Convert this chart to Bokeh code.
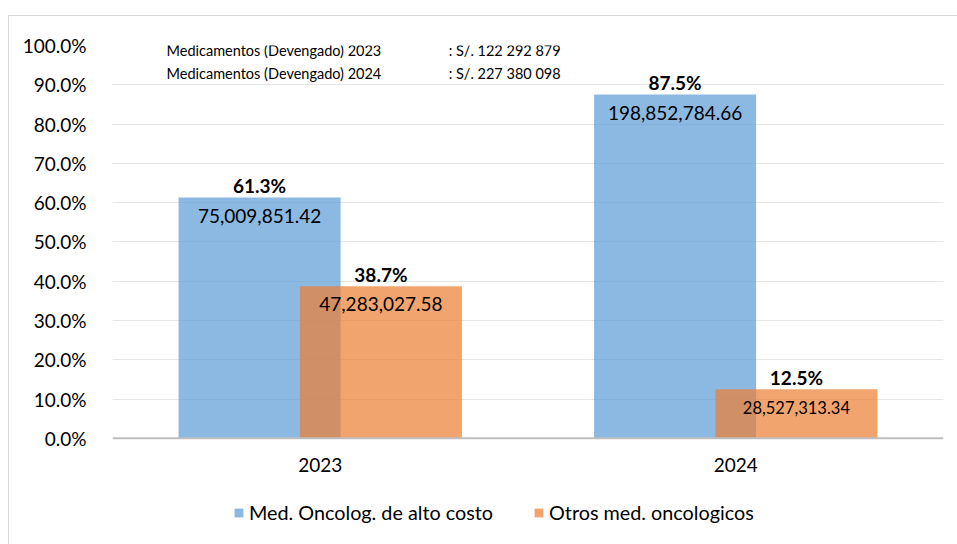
from bokeh.plotting import figure
from bokeh.models import (ColumnDataSource, FixedTicker, NumeralTickFormatter,
                          Legend, LegendItem, Label, Span)
from bokeh.core.properties import value
from bokeh.embed import file_html
from bokeh.resources import INLINE

# ---- data ----
years = ["2023", "2024"]
alto_costo_pct = [0.613, 0.875]
otros_pct = [0.387, 0.125]
alto_costo_amt = ["75,009,851.42", "198,852,784.66"]
otros_amt = ["47,283,027.58", "28,527,313.34"]
pct_labels_alto = ["61.3%", "87.5%"]
pct_labels_otros = ["38.7%", "12.5%"]
series_names = ["Med. Oncolog. de alto costo", "Otros med. oncologicos"]
note_labels = ["Medicamentos (Devengado) 2023", "Medicamentos (Devengado) 2024"]
note_values = [": S/. 122 292 879", ": S/. 227 380 098"]
y_ticks = [0.0, 0.1, 0.2, 0.3, 0.4, 0.5, 0.6, 0.7, 0.8, 0.9, 1.0]

# ---- styling ----
FONT = "Lato"
BLUE = "#5B9BD5"
ORANGE = "#ED7D31"
OFF = 0.146
BAR_W = 0.39
amt_sizes_otros = ["19px", "16.5px"]
Y_BOTTOM = -0.2628   # extra room under the axis for year labels and legend

idx = list(range(len(years)))
src_a = ColumnDataSource(dict(
    x=[i - OFF for i in idx], top=alto_costo_pct, amt=alto_costo_amt,
    pct=pct_labels_alto, size=["19px", "19px"]))
src_o = ColumnDataSource(dict(
    x=[i + OFF for i in idx], top=otros_pct, amt=otros_amt,
    pct=pct_labels_otros, size=amt_sizes_otros))
src_years = ColumnDataSource(dict(x=idx, y=[0] * len(idx), t=years))

p = figure(width=949, height=529, output_backend="svg", toolbar_location=None,
           x_range=(-0.5, len(years) - 0.5), y_range=(Y_BOTTOM, 1.0),
           min_border_left=103, min_border_right=15, min_border_top=29,
           min_border_bottom=4)
p.styles = {"border-top": "1px solid #d9d9d9", "border-left": "1px solid #d9d9d9",
            "margin-left": "8px", "margin-top": "15px"}
p.outline_line_color = None
p.background_fill_color = "white"

r_a = p.vbar(x="x", top="top", bottom=0, width=BAR_W, source=src_a,
             fill_color=BLUE, fill_alpha=0.7, line_color=None)
r_o = p.vbar(x="x", top="top", bottom=0, width=BAR_W, source=src_o,
             fill_color=ORANGE, fill_alpha=0.7, line_color=None)

for src in (src_a, src_o):
    p.text(x="x", y="top", text="pct", source=src, text_font=value(FONT),
           text_font_style="bold", text_font_size="19px", text_align="center",
           text_baseline="middle", y_offset=-12, text_color="#000000")
    p.text(x="x", y="top", text="amt", source=src, text_font=value(FONT),
           text_font_size="size", text_align="center",
           text_baseline="middle", y_offset=18, text_color="#000000")

# category axis: base line + year labels
p.add_layout(Span(location=0, dimension="width", line_color="#bfbfbf",
                  line_width=2))
p.text(x="x", y="y", text="t", source=src_years, text_font=value(FONT),
       text_font_size="19px", text_align="center", text_baseline="middle",
       y_offset=27, text_color="#000000")

# notes
for j, (lab, val) in enumerate(zip(note_labels, note_values)):
    yy = 0.987 - j * 0.058
    p.add_layout(Label(x=-0.37, y=yy, text=lab, text_font=FONT,
                       text_font_size="14.5px", text_baseline="middle",
                       text_color="#000000"))
    p.add_layout(Label(x=0.309, y=yy, text=val, text_font=FONT,
                       text_font_size="14.5px", text_baseline="middle",
                       text_color="#000000"))

p.xaxis.visible = False

p.yaxis.ticker = FixedTicker(ticks=y_ticks)
p.yaxis.formatter = NumeralTickFormatter(format="0.0%")
p.yaxis.axis_line_color = None
p.yaxis.major_tick_line_color = None
p.yaxis.minor_tick_line_color = None
p.yaxis.major_label_standoff = 20
p.yaxis.major_label_text_font = FONT
p.yaxis.major_label_text_font_size = "19px"
p.yaxis.major_label_text_color = "#000000"

p.xgrid.grid_line_color = None
p.ygrid.grid_line_color = "#e6e6e6"
p.ygrid.ticker = FixedTicker(ticks=y_ticks)

legend = Legend(items=[LegendItem(label=series_names[0], renderers=[r_a]),
                       LegendItem(label=series_names[1], renderers=[r_o])],
                location=(121, 17), orientation="horizontal",
                glyph_width=11, glyph_height=11, label_standoff=5, spacing=40,
                padding=0, margin=0, border_line_color=None,
                background_fill_alpha=0, label_text_font=FONT,
                label_text_font_size="19.8px", label_text_color="#000000")
p.add_layout(legend, "center")

open("out.html", "w").write(file_html(p, INLINE))
